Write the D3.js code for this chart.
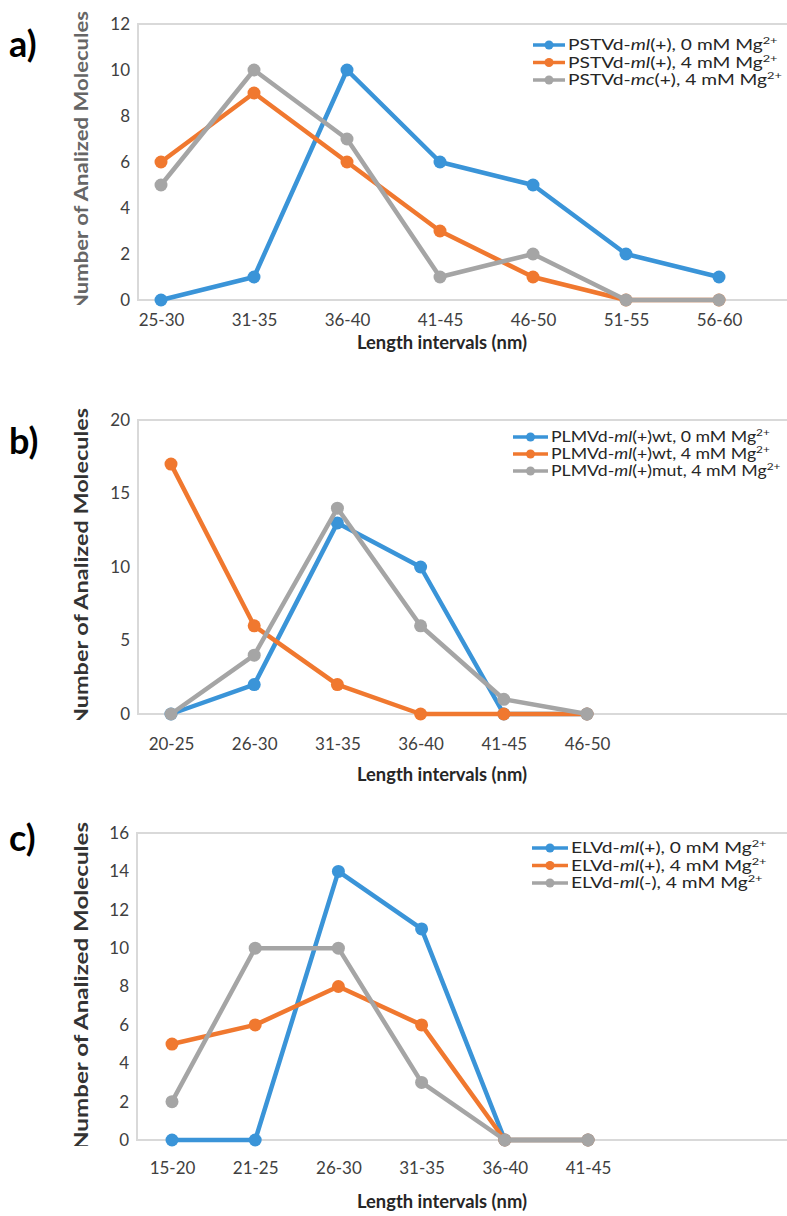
<!DOCTYPE html>
<html>
<head>
<meta charset="utf-8">
<script src="https://cdn.jsdelivr.net/npm/d3@7"></script>
<style>
  body { margin: 0; background: #fff; }
  svg { display: block; font-family: Lato, "Open Sans", sans-serif; }
</style>
</head>
<body>
<svg id="fig" width="787" height="1216"></svg>
<script>
// panel a) PSTVd
const catsA = ['25-30', '31-35', '36-40', '41-45', '46-50', '51-55', '56-60'];
const pstvdMl0 = [0, 1, 10, 6, 5, 2, 1];
const pstvdMl4 = [6, 9, 6, 3, 1, 0, 0];
const pstvdMc4 = [5, 10, 7, 1, 2, 0, 0];
const ticksA = [0, 2, 4, 6, 8, 10, 12];

// panel b) PLMVd
const catsB = ['20-25', '26-30', '31-35', '36-40', '41-45', '46-50'];
const plmvdWt0 = [0, 2, 13, 10, 0, 0];
const plmvdWt4 = [17, 6, 2, 0, 0, 0];
const plmvdMut4 = [0, 4, 14, 6, 1, 0];
const ticksB = [0, 5, 10, 15, 20];

// panel c) ELVd
const catsC = ['15-20', '21-25', '26-30', '31-35', '36-40', '41-45'];
const elvdPlus0 = [0, 0, 14, 11, 0, 0];
const elvdPlus4 = [5, 6, 8, 6, 0, 0];
const elvdMinus4 = [2, 10, 10, 3, 0, 0];
const ticksC = [0, 2, 4, 6, 8, 10, 12, 14, 16];

const colors = ['#3a94d8', '#f0782f', '#a5a5a5'];

const svg = d3.select('#fig');
const defs = svg.append('defs');

function drawPanel(p) {
    const g = svg.append('g');

    const x = d3.scalePoint().domain(p.cats).range([p.x0, p.x1]);
    const y = d3.scaleLinear().domain([0, d3.max(p.ticks)]).range([p.yBottom, p.yTop]);
    const yMax = y(d3.max(p.ticks));

    // plot frame, runs off the right edge like the original
    g.append('rect')
        .attr('x', p.left).attr('y', yMax)
        .attr('width', 800 - p.left).attr('height', y(0) - yMax)
        .attr('fill', 'none').attr('stroke', '#d9d9d9').attr('stroke-width', 2);

    // y axis labels
    const ya = g.append('g').attr('transform', `translate(${p.left},0)`)
        .call(d3.axisLeft(y).tickValues(p.ticks).tickSize(0).tickPadding(8));
    ya.select('.domain').remove();
    ya.selectAll('text').attr('font-size', 17).attr('fill', '#404040').attr('font-family', 'Lato');

    // x axis labels
    const xa = g.append('g').attr('transform', `translate(0,${y(0)})`)
        .call(d3.axisBottom(x).tickSize(0).tickPadding(p.xPad));
    xa.select('.domain').remove();
    xa.selectAll('text').attr('font-size', 17).attr('fill', '#404040').attr('font-family', 'Lato');

    // y title, its first letter cut at the bottom like in the source image
    const clipId = 'clip-' + p.letter[0];
    defs.append('clipPath').attr('id', clipId)
        .append('rect').attr('x', 0).attr('y', p.yTitleClip - 400).attr('width', 120).attr('height', 400);
    g.append('g').attr('clip-path', `url(#${clipId})`)
        .append('text')
        .attr('transform', `translate(88,${p.yTitleStart}) rotate(-90)`)
        .attr('font-size', 19).attr('font-weight', 'bold').attr('fill', p.yTitleColor)
        .attr('textLength', p.yTitleLen).attr('lengthAdjust', 'spacingAndGlyphs')
        .text('Number of Analized Molecules');

    g.append('text')
        .attr('x', 357).attr('y', p.xTitleY)
        .attr('font-size', 18).attr('font-weight', 'bold').attr('fill', '#262626')
        .attr('textLength', 170).attr('lengthAdjust', 'spacingAndGlyphs')
        .text('Length intervals (nm)');

    // panel letter
    g.append('text')
        .attr('x', 9).attr('y', p.letterY)
        .attr('font-size', 36).attr('font-weight', 'bold').attr('fill', '#000')
        .text(p.letter);

    // series
    const line = d3.line().x((d, i) => x(p.cats[i])).y(d => y(d));
    p.series.forEach((s, k) => {
        g.append('path').datum(s.values)
            .attr('d', line).attr('fill', 'none')
            .attr('stroke', colors[k]).attr('stroke-width', 4.5)
            .attr('stroke-linejoin', 'round');
        g.selectAll(null).data(s.values).enter().append('circle')
            .attr('cx', (d, i) => x(p.cats[i])).attr('cy', d => y(d))
            .attr('r', 6.5).attr('fill', colors[k]);
    });

    // legend, text stretched sideways to the width of the original
    const lg = g.append('g').attr('transform', `translate(${p.legX},${p.legY})`);
    p.series.forEach((s, k) => {
        const row = lg.append('g').attr('transform', `translate(0,${k * p.legStep})`);
        row.append('line').attr('x1', 0).attr('x2', p.legLine).attr('y1', 0).attr('y2', 0)
            .attr('stroke', colors[k]).attr('stroke-width', 3.5);
        row.append('circle').attr('cx', p.legLine / 2).attr('cy', 0).attr('r', 4.5).attr('fill', colors[k]);
        const t = row.append('g')
            .attr('transform', `translate(${p.legLine + 3},0) scale(${p.legScale},1)`)
            .append('text').attr('x', 0).attr('y', 5)
            .attr('font-size', 15).attr('fill', '#262626');
        t.append('tspan').text(s.pre);
        t.append('tspan').attr('font-style', 'italic').text(s.it);
        t.append('tspan').text(s.post);
        t.append('tspan').attr('font-size', 10).attr('dy', -6).text('2+');
    });
}

drawPanel({
    letter: 'a)', letterY: 57,
    cats: catsA, ticks: ticksA,
    left: 138, x0: 161, x1: 719, yTop: 24, yBottom: 300, xPad: 14,
    yTitleStart: 311, yTitleLen: 300, yTitleClip: 305, yTitleColor: '#666',
    xTitleY: 349,
    legX: 533, legY: 45, legStep: 17.5, legLine: 32, legScale: 1.28,
    series: [
        { values: pstvdMl0, pre: 'PSTVd-', it: 'ml', post: '(+), 0 mM Mg' },
        { values: pstvdMl4, pre: 'PSTVd-', it: 'ml', post: '(+), 4 mM Mg' },
        { values: pstvdMc4, pre: 'PSTVd-', it: 'mc', post: '(+), 4 mM Mg' }
    ]
});

drawPanel({
    letter: 'b)', letterY: 454,
    cats: catsB, ticks: ticksB,
    left: 138, x0: 171, x1: 587, yTop: 420, yBottom: 714, xPad: 24,
    yTitleStart: 726, yTitleLen: 318, yTitleClip: 720, yTitleColor: '#333',
    xTitleY: 781,
    legX: 513, legY: 437, legStep: 17, legLine: 35, legScale: 1.18,
    series: [
        { values: plmvdWt0, pre: 'PLMVd-', it: 'ml', post: '(+)wt, 0 mM Mg' },
        { values: plmvdWt4, pre: 'PLMVd-', it: 'ml', post: '(+)wt, 4 mM Mg' },
        { values: plmvdMut4, pre: 'PLMVd-', it: 'ml', post: '(+)mut, 4 mM Mg' }
    ]
});

drawPanel({
    letter: 'c)', letterY: 851,
    cats: catsC, ticks: ticksC,
    left: 137, x0: 172, x1: 588, yTop: 833, yBottom: 1140, xPad: 22,
    yTitleStart: 1150, yTitleLen: 328, yTitleClip: 1146, yTitleColor: '#333',
    xTitleY: 1208,
    legX: 532, legY: 848, legStep: 17.5, legLine: 36, legScale: 1.28,
    series: [
        { values: elvdPlus0, pre: 'ELVd-', it: 'ml', post: '(+), 0 mM Mg' },
        { values: elvdPlus4, pre: 'ELVd-', it: 'ml', post: '(+), 4 mM Mg' },
        { values: elvdMinus4, pre: 'ELVd-', it: 'ml', post: '(-), 4 mM Mg' }
    ]
});
</script>
</body>
</html>
